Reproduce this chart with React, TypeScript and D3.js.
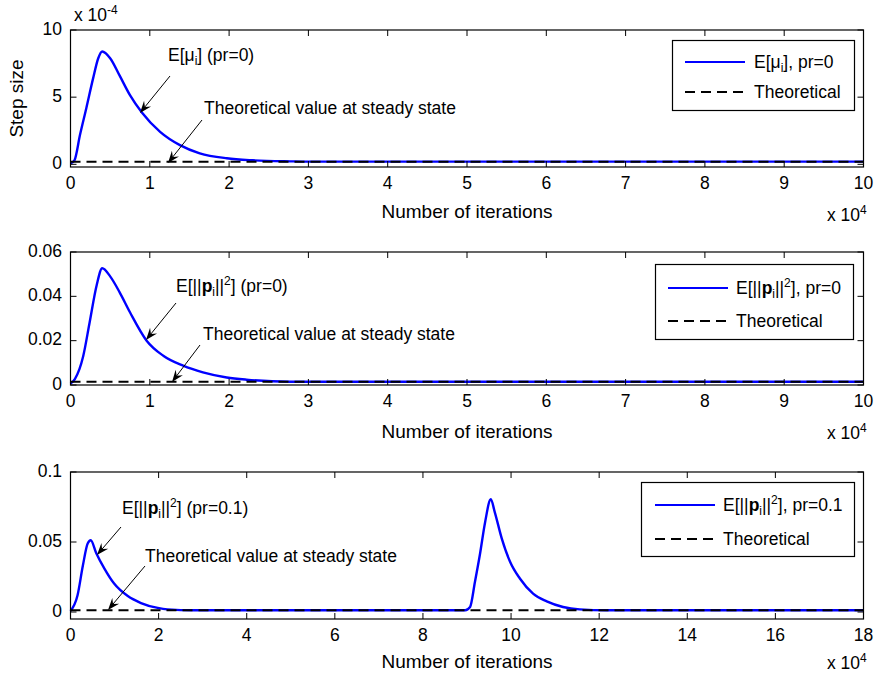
import React from 'react';
import * as d3 from 'd3';

// iterations are in units of 1e4
const stepX = [0, 0.05, 0.12, 0.2, 0.285, 0.35, 0.4, 0.5, 0.62, 0.75, 0.9, 1.13, 1.38, 1.63, 1.97, 2.3, 2.77, 3.0, 10];
// step size in units of 1e-4
const stepY = [0.07, 0.3, 2.2, 4.2, 6.4, 7.9, 8.4, 7.9, 6.6, 5.15, 3.86, 2.42, 1.43, 0.82, 0.45, 0.3, 0.22, 0.2, 0.2];
const stepTheory = 0.2;

const powX = [0, 0.055, 0.16, 0.24, 0.33, 0.4, 0.5, 0.62, 0.75, 0.96, 1.17, 1.42, 1.67, 1.97, 2.22, 2.77, 10];
const powY = [0.0006, 0.0027, 0.013, 0.028, 0.045, 0.0527, 0.049, 0.0418, 0.0328, 0.02, 0.0132, 0.0087, 0.0057, 0.0034, 0.0024, 0.0015, 0.0015];
const powTheory = 0.0015;

const pow01X = [0, 0.16, 0.28, 0.39, 0.46, 0.58, 0.77, 0.99, 1.3, 1.6, 1.98, 2.2, 2.8, 8.96, 9.07, 9.18, 9.29, 9.41, 9.54, 9.63, 9.79, 9.98, 10.2, 10.5, 10.81, 11.18, 11.56, 12.17, 18];
const pow01Y = [0.0007, 0.012, 0.033, 0.0489, 0.0512, 0.0424, 0.031, 0.0203, 0.0114, 0.0064, 0.0029, 0.0019, 0.0013, 0.0013, 0.0036, 0.0214, 0.0405, 0.064, 0.0805, 0.0714, 0.0524, 0.0357, 0.0239, 0.0131, 0.0076, 0.0036, 0.0019, 0.0013, 0.0013];
const pow01Theory = 0.0013;

const xTicks10 = [0, 1, 2, 3, 4, 5, 6, 7, 8, 9, 10];
const xTicks18 = [0, 2, 4, 6, 8, 10, 12, 14, 16, 18];

const FONT = '"Liberation Sans", Arial, Helvetica, sans-serif';
const LEFT = 70.5;
const RIGHT = 863.5;
const BLUE = '#0000ff';
const DASH = '10,6';

function Arrow({ x1, y1, x2, y2 }) {
  const dx = x2 - x1, dy = y2 - y1;
  const len = Math.sqrt(dx * dx + dy * dy);
  const ux = dx / len, uy = dy / len;
  const nx = -uy, ny = ux;
  const L = 12, W = 9;
  const pts = [
    [x2, y2],
    [x2 - ux * L + nx * W / 2, y2 - uy * L + ny * W / 2],
    [x2 - ux * L * 0.65, y2 - uy * L * 0.65],
    [x2 - ux * L - nx * W / 2, y2 - uy * L - ny * W / 2],
  ];
  return (
    <g>
      <line x1={x1} y1={y1} x2={x2 - ux * 6} y2={y2 - uy * 6} stroke="#000" strokeWidth={1} />
      <polygon points={pts.map((p) => p.join(',')).join(' ')} fill="#000" />
    </g>
  );
}

// label renderers (sub/superscripts)
const muLabel = (tail) => (
  <>
    E[μ<tspan dy={4} fontSize={12}>i</tspan><tspan dy={-4}>]{tail}</tspan>
  </>
);
const pLabel = (tail) => (
  <>
    E[||<tspan fontWeight="bold">p</tspan><tspan dy={4} fontSize={12}>i</tspan>
    <tspan dy={-4}>||</tspan><tspan dy={-7} fontSize={12}>2</tspan><tspan dy={7}>]{tail}</tspan>
  </>
);

const panels = [
  {
    top: 30, bottom: 167, xMax: 10, xTicks: xTicks10, yDomain: [-0.2, 10], yTicks: [0, 5, 10],
    xs: stepX, ys: stepY, theory: stepTheory, xlabelY: 213, exp4Y: 215,
    ylabel: 'Step size', topExp: true,
    legend: { x: 672.5, y: 40.5, w: 182, h: 70, l1: 685, l2: 745, ly1: 62, ly2: 92, tx: 754, label: muLabel(', pr=0') },
    annot: [
      { tx: 168, ty: 55, text: muLabel(' (pr=0)'), x1: 170, y1: 76, x2: 140, y2: 113 },
      { tx: 204, ty: 108, text: 'Theoretical value at steady state', x1: 202, y1: 120, x2: 168, y2: 163 },
    ],
  },
  {
    top: 252, bottom: 385, xMax: 10, xTicks: xTicks10, yDomain: [0, 0.06], yTicks: [0, 0.02, 0.04, 0.06],
    xs: powX, ys: powY, theory: powTheory, xlabelY: 433, exp4Y: 433,
    legend: { x: 655.5, y: 264.5, w: 198, h: 75, l1: 668, l2: 728, ly1: 288, ly2: 321, tx: 736, label: pLabel(', pr=0') },
    annot: [
      { tx: 176, ty: 286, text: pLabel(' (pr=0)'), x1: 176, y1: 303, x2: 146, y2: 340 },
      { tx: 203, ty: 334, text: 'Theoretical value at steady state', x1: 200, y1: 345, x2: 172, y2: 382 },
    ],
  },
  {
    top: 472, bottom: 619, xMax: 18, xTicks: xTicks18, yDomain: [-0.005, 0.1], yTicks: [0, 0.05, 0.1],
    xs: pow01X, ys: pow01Y, theory: pow01Theory, xlabelY: 663, exp4Y: 663,
    legend: { x: 641.5, y: 482.5, w: 213, h: 74, l1: 655, l2: 715, ly1: 505, ly2: 539, tx: 723, label: pLabel(', pr=0.1') },
    annot: [
      { tx: 122, ty: 508, text: pLabel(' (pr=0.1)'), x1: 121, y1: 527, x2: 97, y2: 555 },
      { tx: 145, ty: 556, text: 'Theoretical value at steady state', x1: 145, y1: 566, x2: 108, y2: 610 },
    ],
  },
];

function Panel({ p }) {
  const x = d3.scaleLinear().domain([0, p.xMax]).range([LEFT, RIGHT]);
  const y = d3.scaleLinear().domain(p.yDomain).range([p.bottom, p.top]);
  const line = d3.line().x((d) => x(d[0])).y((d) => y(d[1])).curve(d3.curveMonotoneX);
  const pts = p.xs.map((v, i) => [v, p.ys[i]]);
  const tl = 6;
  return (
    <g fontFamily={FONT}>
      <path d={line(pts)} fill="none" stroke={BLUE} strokeWidth={2.4} strokeLinejoin="round" />
      <line x1={x(0)} x2={x(p.xMax)} y1={y(p.theory)} y2={y(p.theory)} stroke="#000" strokeWidth={2} strokeDasharray={DASH} />
      <rect x={LEFT} y={p.top} width={RIGHT - LEFT} height={p.bottom - p.top} fill="none" stroke="#000" strokeWidth={1.2} />
      {p.xTicks.map((t) => (
        <g key={'x' + t}>
          <line x1={x(t)} x2={x(t)} y1={p.bottom} y2={p.bottom - tl} stroke="#000" />
          <line x1={x(t)} x2={x(t)} y1={p.top} y2={p.top + tl} stroke="#000" />
          <text x={x(t)} y={p.bottom + 17} textAnchor="middle" dominantBaseline="middle" fontSize={17.5}>{t}</text>
        </g>
      ))}
      {p.yTicks.map((t) => (
        <g key={'y' + t}>
          <line x1={LEFT} x2={LEFT + tl} y1={y(t)} y2={y(t)} stroke="#000" />
          <line x1={RIGHT} x2={RIGHT - tl} y1={y(t)} y2={y(t)} stroke="#000" />
          <text x={62} y={y(t)} textAnchor="end" dominantBaseline="middle" fontSize={17.5}>{String(t)}</text>
        </g>
      ))}
      <text x={(LEFT + RIGHT) / 2} y={p.xlabelY} textAnchor="middle" dominantBaseline="middle" fontSize={19}>Number of iterations</text>
      <text x={827} y={p.exp4Y + 6} fontSize={17.5}>
        x 10<tspan dy={-7} fontSize={12}>4</tspan>
      </text>
      {p.topExp && (
        <text x={74} y={21} fontSize={17.5}>
          x 10<tspan dy={-7} fontSize={12}>-4</tspan>
        </text>
      )}
      {p.ylabel && (
        <text transform={`translate(18,${(p.top + p.bottom) / 2}) rotate(-90)`} textAnchor="middle" dominantBaseline="middle" fontSize={19}>
          {p.ylabel}
        </text>
      )}
      <rect x={p.legend.x} y={p.legend.y} width={p.legend.w} height={p.legend.h} fill="#fff" stroke="#000" strokeWidth={1.2} />
      <line x1={p.legend.l1} x2={p.legend.l2} y1={p.legend.ly1} y2={p.legend.ly1} stroke={BLUE} strokeWidth={2} />
      <line x1={p.legend.l1} x2={p.legend.l2} y1={p.legend.ly2} y2={p.legend.ly2} stroke="#000" strokeWidth={2} strokeDasharray={DASH} />
      <text x={p.legend.tx} y={p.legend.ly1 + 6} fontSize={17.5}>{p.legend.label}</text>
      <text x={p.legend.tx} y={p.legend.ly2 + 6} fontSize={17.5}>Theoretical</text>
      {p.annot.map((a, i) => (
        <g key={'a' + i}>
          <text x={a.tx} y={a.ty + 6} fontSize={17.5}>{a.text}</text>
          <Arrow x1={a.x1} y1={a.y1} x2={a.x2} y2={a.y2} />
        </g>
      ))}
    </g>
  );
}

export default function App() {
  return (
    <svg width={875} height={680} style={{ position: 'absolute', left: 0, top: 0, background: '#fff' }}>
      <rect width={875} height={680} fill="#fff" />
      {panels.map((p, i) => (
        <Panel key={i} p={p} />
      ))}
    </svg>
  );
}
